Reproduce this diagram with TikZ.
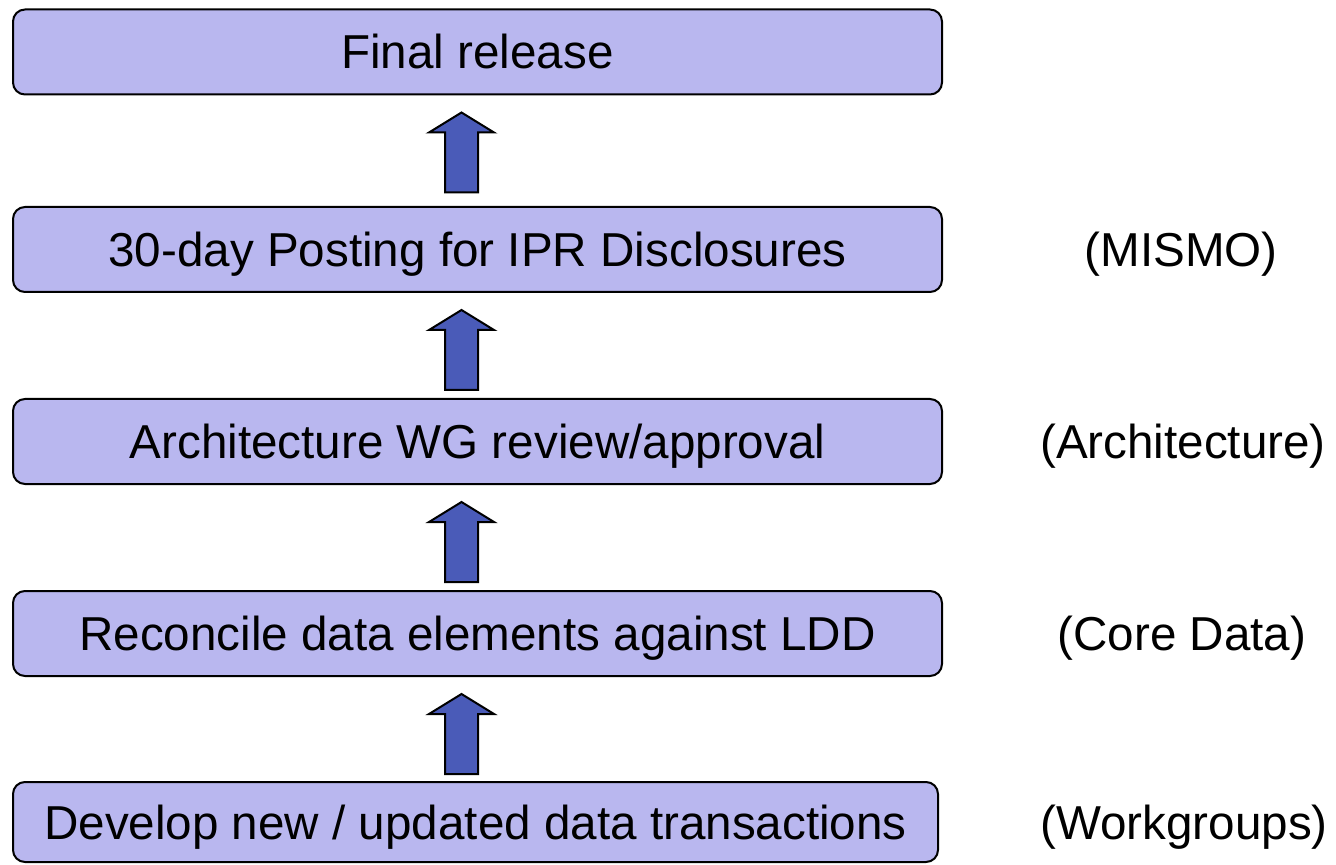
\documentclass[tikz,border=0pt]{standalone}
\usepackage{fontspec}
\setmainfont{Liberation Sans}
\usepackage{tikz}
\usetikzlibrary{calc}

\definecolor{stagefill}{HTML}{B9B7EF}
\definecolor{arrowfill}{HTML}{4A5BB8}

\begin{document}
\begin{tikzpicture}[x=0.5pt,y=-0.5pt,
  stage/.style={draw=black, line width=1pt, fill=stagefill, rounded corners=6pt,
    minimum width=464.5pt, minimum height=42.5pt, inner sep=0pt,
    font=\fontsize{23.8}{28}\selectfont, text height=17pt, text depth=0pt},
  role/.style={draw=none, inner sep=0pt,
    font=\fontsize{23.8}{28}\selectfont, text height=17pt, text depth=0pt},
  uparrow/.style={draw=black, line width=1pt, fill=arrowfill, line join=miter}]
\useasboundingbox (0,0) rectangle (1336,865);

\node[stage] (final) at (477.5,52) {Final release};
\node[stage] (posting) at (477.5,249.5) {30-day Posting for IPR Disclosures};
\node[stage] (review) at (477.5,441.5) {Architecture WG review/approval};
\node[stage] (reconcile) at (477.5,633.5) {Reconcile data elements against LDD};
\node[stage, minimum width=462.5pt, minimum height=40pt] (develop) at (475.5,822) {Develop new / updated data transactions};

\node[role] (mismo) at (1181,249.5) {(MISMO)};
\node[role] (arch) at (1183,441.5) {(Architecture)};
\node[role] (core) at (1182,633.5) {(Core Data)};
\node[role] (wg) at (1184,822) {(Workgroups)};

% block arrows, tip just under the upper box
\foreach \hi in {final,posting,review,reconcile}
  \draw[uparrow] ($(\hi.south)+(-16,17)$) -- ++(32.5,20) -- ++(-16,0) -- ++(0,60)
    -- ++(-33,0) -- ++(0,-60) -- ++(-16,0) -- cycle;
\end{tikzpicture}
\end{document}
